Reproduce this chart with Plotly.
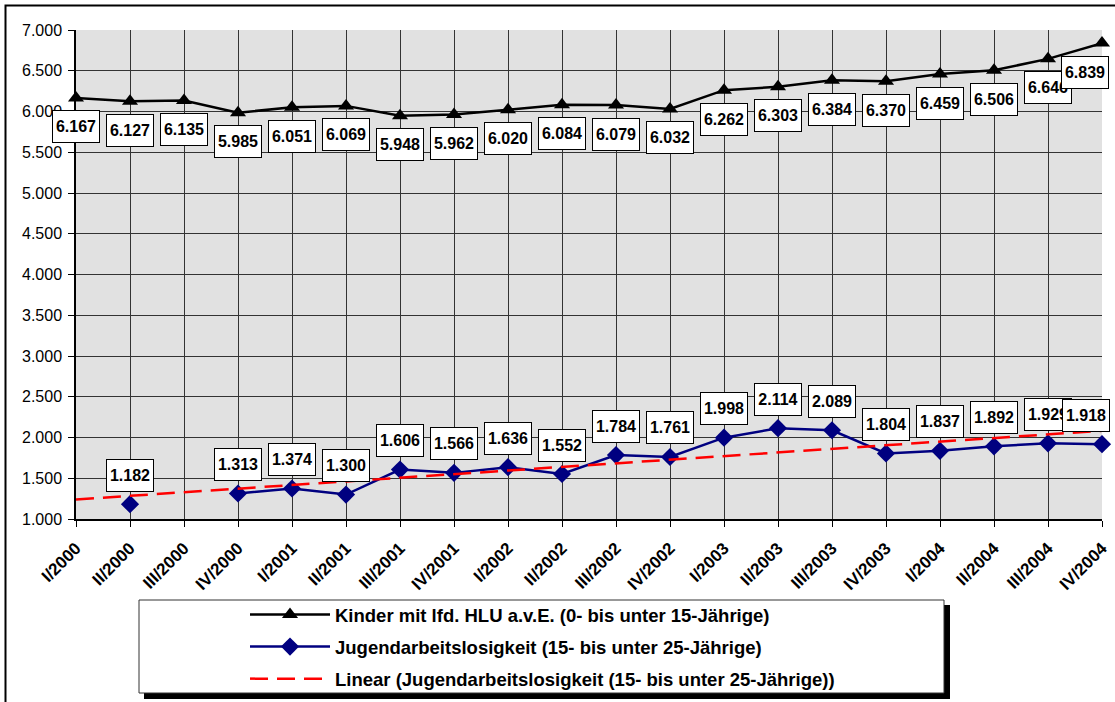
import numpy as np
import plotly.graph_objects as go

quarters = ["I/2000", "II/2000", "III/2000", "IV/2000",
            "I/2001", "II/2001", "III/2001", "IV/2001",
            "I/2002", "II/2002", "III/2002", "IV/2002",
            "I/2003", "II/2003", "III/2003", "IV/2003",
            "I/2004", "II/2004", "III/2004", "IV/2004"]
kinder = [6167, 6127, 6135, 5985, 6051, 6069, 5948, 5962, 6020, 6084,
          6079, 6032, 6262, 6303, 6384, 6370, 6459, 6506, 6646, 6839]
jugend = [None, 1182, None, 1313, 1374, 1300, 1606, 1566, 1636, 1552,
          1784, 1761, 1998, 2114, 2089, 1804, 1837, 1892, 1929, 1918]

name_k = "Kinder mit lfd. HLU a.v.E. (0- bis unter 15-Jährige)"
name_j = "Jugendarbeitslosigkeit (15- bis unter 25-Jährige)"
name_t = "Linear (Jugendarbeitslosigkeit (15- bis unter 25-Jährige))"

# linear trend (least squares) of the youth series over category index
idx = np.arange(len(quarters))
mask = np.array([v is not None for v in jugend])
yv = np.array([v for v in jugend if v is not None], dtype=float)
slope, inter = np.polyfit(idx[mask], yv, 1)
trend = [inter + slope * i for i in idx]

FONT = "Liberation Sans, Arial, sans-serif"

W, H = 1115, 702
L, R, T, B = 76, 13, 30, 183
PW, PH = W - L - R, H - T - B


def px(xp):
    return (xp - L) / PW


def py(yp):
    return (H - B - yp) / PH


fig = go.Figure()
fig.add_trace(go.Scatter(
    x=quarters, y=kinder, name=name_k, mode="lines+markers",
    line=dict(color="black", width=2.5),
    marker=dict(symbol="triangle-up", size=14, color="black"),
    cliponaxis=False, legendgroup="a"))
fig.add_trace(go.Scatter(
    x=quarters, y=jugend, name=name_j, mode="lines+markers",
    line=dict(color="#000080", width=2.5),
    marker=dict(symbol="diamond", size=14, color="#000080"),
    connectgaps=False, cliponaxis=False, legendgroup="b"))
fig.add_trace(go.Scatter(
    x=quarters, y=trend, name=name_t, mode="lines",
    line=dict(color="#ff0000", width=2.5, dash="18px,9px"),
    legendgroup="c"))


def fmt(v):
    return f"{v:,}".replace(",", ".")


annotations = []
n = len(quarters)
for i, (q, v) in enumerate(zip(quarters, kinder)):
    annotations.append(dict(
        x=q, y=v, xref="x", yref="y", text=f"<b>{fmt(v)}</b>", showarrow=False,
        yshift=-29, xshift=(-17 if i == n - 1 else 0),
        width=46, height=31, borderpad=0,
        bgcolor="white", bordercolor="black", borderwidth=1,
        font=dict(family=FONT, size=16, color="black")))
for i, (q, v) in enumerate(zip(quarters, jugend)):
    if v is None:
        continue
    annotations.append(dict(
        x=q, y=v, xref="x", yref="y", text=f"<b>{fmt(v)}</b>", showarrow=False,
        yshift=29, xshift=(-16 if i == n - 1 else 0),
        width=46, height=31, borderpad=0,
        bgcolor="white", bordercolor="black", borderwidth=1,
        font=dict(family=FONT, size=16, color="black")))

shapes = [
    # outer chart frame
    dict(type="rect", xref="paper", yref="paper",
         x0=px(5.5), x1=px(1120), y0=py(712), y1=py(5.5),
         line=dict(color="black", width=2), fillcolor="rgba(0,0,0,0)", layer="below"),
    # legend shadow
    dict(type="rect", xref="paper", yref="paper",
         x0=px(144), x1=px(950), y0=py(699), y1=py(605),
         line=dict(width=0), fillcolor="black", layer="above"),
    # legend box
    dict(type="rect", xref="paper", yref="paper",
         x0=px(139), x1=px(944), y0=py(693), y1=py(600),
         line=dict(color="#333333", width=1), fillcolor="white", layer="above"),
]

fig.update_layout(
    width=W, height=H,
    margin=dict(l=L, r=R, t=T, b=B, pad=0, autoexpand=False),
    paper_bgcolor="white", plot_bgcolor="#e1e1e1",
    separators=",.",
    font=dict(family=FONT, size=16, color="black"),
    showlegend=True,
    legend=dict(
        x=px(245), y=py(596), xanchor="left", yanchor="top",
        bgcolor="rgba(0,0,0,0)", borderwidth=0,
        font=dict(family=FONT, size=18.5, color="black", weight="bold"),
        itemwidth=80, traceorder="grouped", tracegroupgap=5,
        itemclick=False),
    annotations=annotations,
    shapes=shapes,
)
fig.update_xaxes(
    type="category", range=[0, n - 1], automargin=False,
    showgrid=True, gridcolor="#333333", gridwidth=1,
    showline=True, linecolor="black", linewidth=1.5,
    ticks="outside", ticklen=6, tickcolor="black",
    tickangle=-45, ticklabelstandoff=5,
    tickfont=dict(family=FONT, size=17, color="black", weight="bold"),
    zeroline=False, fixedrange=True)
fig.update_yaxes(
    range=[1000, 7000], dtick=500, tick0=1000, tickformat=",d", automargin=False,
    showgrid=True, gridcolor="#333333", gridwidth=1,
    showline=True, linecolor="black", linewidth=1.5,
    ticks="outside", ticklen=6, tickcolor="black",
    ticklabelstandoff=3,
    tickfont=dict(family=FONT, size=16, color="black"),
    zeroline=False, fixedrange=True)

fig.write_html(
    "out.html",
    config={"displayModeBar": False},
    post_script="document.body.style.margin='0';document.body.style.overflow='hidden';")
